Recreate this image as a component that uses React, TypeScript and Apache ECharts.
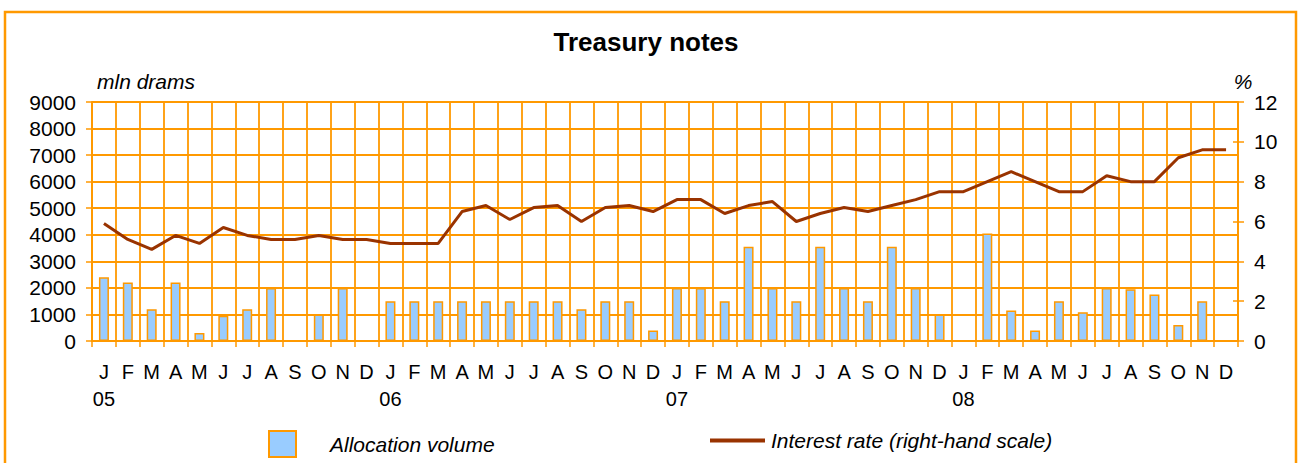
import React, { useEffect, useRef } from "react";
import * as echarts from "echarts";

const months = ["J","F","M","A","M","J","J","A","S","O","N","D"];
const years = ["05", "06", "07", "08"];
const categories: string[] = [];
years.forEach((y) => months.forEach((m, i) => categories.push(i === 0 ? `${m}\n${y}` : `${m}\n `)));

const allocationVolume = [
  2400, 2200, 1200, 2200, 300, 950, 1200, 2000, 0, 1000, 2000, 0,
  1500, 1500, 1500, 1500, 1500, 1500, 1500, 1500, 1200, 1500, 1500, 400,
  2000, 2000, 1500, 3550, 2000, 1500, 3550, 2000, 1500, 3550, 2000, 1000,
  0, 4050, 1150, 400, 1500, 1080, 2000, 1950, 1750, 600, 1500, 0,
];
const interestRate = [
  5.9, 5.1, 4.6, 5.3, 4.9, 5.7, 5.3, 5.1, 5.1, 5.3, 5.1, 5.1,
  4.9, 4.9, 4.9, 6.5, 6.8, 6.1, 6.7, 6.8, 6.0, 6.7, 6.8, 6.5,
  7.1, 7.1, 6.4, 6.8, 7.0, 6.0, 6.4, 6.7, 6.5, 6.8, 7.1, 7.5,
  7.5, 8.0, 8.5, 8.0, 7.5, 7.5, 8.3, 8.0, 8.0, 9.2, 9.6, 9.6,
];

const ORANGE = "#FF9900";
const FONT = "Liberation Sans, Arial, sans-serif";

export default function App() {
  const ref = useRef<HTMLDivElement>(null);
  useEffect(() => {
    document.body.style.margin = "0";
    const chart = echarts.init(ref.current!, null, { renderer: "svg" });
    chart.setOption({
      animation: false,
      backgroundColor: "#fff",
      textStyle: { fontFamily: FONT, color: "#000" },
      title: {
        text: "Treasury notes",
        left: 641,
        top: 24,
        textAlign: "center",
        textStyle: { fontFamily: FONT, fontSize: 26, fontWeight: "bold", color: "#000" },
      },
      graphic: [
        {
          type: "rect",
          shape: { x: 5, y: 12, width: 1291, height: 470 },
          style: { fill: "none", stroke: ORANGE, lineWidth: 2.5 },
          silent: true,
        },
      ],
      legend: [
        {
          data: ["Allocation volume"],
          left: 263,
          top: 425,
          icon: "rect",
          itemWidth: 27,
          itemHeight: 26,
          textStyle: { fontFamily: FONT, fontSize: 21, fontStyle: "italic", color: "#000", padding: [0, 0, 0, 29] },
        },
        {
          data: ["Interest rate (right-hand scale)"],
          left: 705,
          top: 425,
          icon: "rect",
          itemWidth: 55,
          itemHeight: 4,
          textStyle: { fontFamily: FONT, fontSize: 21, fontStyle: "italic", color: "#000", padding: [0, 0, 0, 1] },
        },
      ],
      grid: { left: 92, right: 62, top: 102, bottom: 122 },
      xAxis: {
        type: "category",
        data: categories,
        boundaryGap: true,
        axisLine: { show: true, lineStyle: { color: ORANGE, width: 2 } },
        axisTick: { show: true, length: 6, interval: 0, lineStyle: { color: ORANGE, width: 1.5 } },
        splitLine: { show: true, interval: 0, lineStyle: { color: ORANGE, width: 1.8 } },
        axisLabel: {
          interval: 0,
          margin: 17,
          fontFamily: FONT,
          fontSize: 20,
          lineHeight: 27,
          color: "#000",
          align: "center",
        },
      },
      yAxis: [
        {
          type: "value",
          min: 0,
          max: 9000,
          interval: 1000,
          position: "left",
          name: "mln drams",
          nameLocation: "end",
          nameGap: 10,
          nameTextStyle: { fontFamily: FONT, fontSize: 21, fontStyle: "italic", color: "#000", align: "left", padding: [0, 0, 0, 5] },
          axisLine: { show: true, lineStyle: { color: ORANGE, width: 2 } },
          axisTick: { show: true, length: 6, lineStyle: { color: ORANGE, width: 1.5 } },
          splitLine: { show: true, lineStyle: { color: ORANGE, width: 1.8 } },
          axisLabel: { margin: 16, fontFamily: FONT, fontSize: 21, color: "#000", formatter: (v: number) => String(v) },
        },
        {
          type: "value",
          min: 0,
          max: 12,
          interval: 2,
          position: "right",
          name: "%",
          nameLocation: "end",
          nameGap: 6,
          nameTextStyle: { fontFamily: FONT, fontSize: 21, fontStyle: "italic", color: "#000", align: "center", padding: [0, 0, 0, 10] },
          axisLine: { show: true, lineStyle: { color: ORANGE, width: 2 } },
          axisTick: { show: true, length: 6, lineStyle: { color: ORANGE, width: 1.5 } },
          splitLine: { show: false },
          axisLabel: { margin: 16, fontFamily: FONT, fontSize: 21, color: "#000", formatter: (v: number) => String(v) },
        },
        {
          type: "value",
          min: 0,
          max: 12,
          interval: 2,
          position: "right",
          axisLine: { show: false },
          axisTick: { show: true, inside: true, length: 5, lineStyle: { color: ORANGE, width: 1.5 } },
          splitLine: { show: false },
          axisLabel: { show: false },
        },
      ],
      series: [
        {
          name: "Allocation volume",
          type: "bar",
          data: allocationVolume,
          barWidth: 10,
          itemStyle: { color: "#99CCFF", borderColor: ORANGE, borderWidth: 1.5 },
          yAxisIndex: 0,
        },
        {
          name: "Interest rate (right-hand scale)",
          type: "line",
          data: interestRate,
          yAxisIndex: 1,
          showSymbol: false,
          symbol: "none",
          lineStyle: { color: "#993300", width: 3 },
          itemStyle: { color: "#993300" },
        },
      ],
    });
    return () => chart.dispose();
  }, []);
  return <div ref={ref} style={{ position: "absolute", left: 0, top: 0, width: 1300, height: 463 }} />;
}
